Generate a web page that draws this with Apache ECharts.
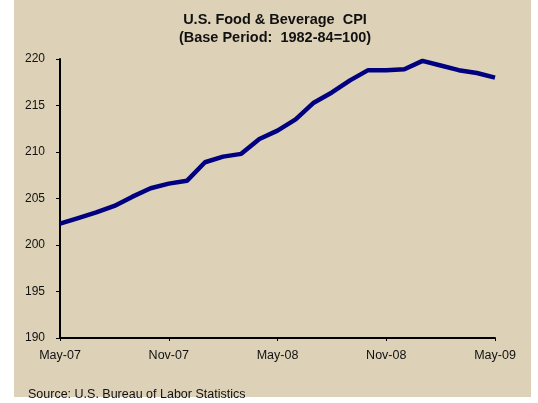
<!DOCTYPE html>
<html>
<head>
<meta charset="utf-8">
<script src="https://cdn.jsdelivr.net/npm/echarts@6/dist/echarts.min.js"></script>
<style>
  html, body { margin: 0; padding: 0; background: #fff; }
  #chart { width: 538px; height: 403px; }
</style>
</head>
<body>
<div id="chart"></div>
<script>
// monthly CPI, May-07 .. May-09
let months = ['May-07','Jun-07','Jul-07','Aug-07','Sep-07','Oct-07','Nov-07','Dec-07',
    'Jan-08','Feb-08','Mar-08','Apr-08','May-08','Jun-08','Jul-08','Aug-08','Sep-08','Oct-08',
    'Nov-08','Dec-08','Jan-09','Feb-09','Mar-09','Apr-09','May-09'];
let cpi = [202.3, 202.9, 203.5, 204.2, 205.2, 206.1, 206.6, 206.9,
    208.9, 209.5, 209.8, 211.4, 212.3, 213.5, 215.3, 216.4, 217.7, 218.8,
    218.8, 218.9, 219.8, 219.3, 218.8, 218.5, 218.0];
let yTicks = [190, 195, 200, 205, 210, 215, 220];

let font = '"Liberation Sans", Arial, sans-serif';
let myChart = echarts.init(document.getElementById('chart'));
let option = {
    backgroundColor: '#fff',
    animation: false,
    title: {
        text: 'U.S. Food & Beverage  CPI\n(Base Period:  1982-84=100)',
        left: 270,
        top: 6,
        textAlign: 'center',
        textStyle: {
            fontFamily: font,
            fontSize: 14.5,
            fontWeight: 'bold',
            color: '#111',
            lineHeight: 18
        }
    },
    graphic: [{
        type: 'rect',
        z: -10,
        shape: { x: 14, y: 0, width: 517, height: 397 },
        style: { fill: '#DDD2B8' }
    }, {
        type: 'text',
        left: 28,
        top: 388,
        style: {
            text: 'Source: U.S. Bureau of Labor Statistics',
            font: '12.5px ' + font,
            fill: '#111'
        }
    }],
    grid: { left: 60, right: 43, top: 59, bottom: 65 },
    xAxis: {
        type: 'category',
        data: months,
        boundaryGap: false,
        axisLine: { lineStyle: { color: '#000', width: 2 } },
        axisTick: { show: true, interval: 5, length: 3, lineStyle: { color: '#000' } },
        axisLabel: {
            interval: 5,
            color: '#111',
            fontFamily: font,
            fontSize: 12.5,
            margin: 11
        },
        splitLine: { show: false }
    },
    yAxis: {
        type: 'value',
        min: yTicks[0],
        max: yTicks[yTicks.length - 1],
        interval: 5,
        axisLine: { show: true, lineStyle: { color: '#000', width: 2 } },
        axisTick: { show: true, length: 4, lineStyle: { color: '#000' } },
        axisLabel: {
            color: '#111',
            fontFamily: font,
            fontSize: 12,
            margin: 15
        },
        splitLine: { show: false }
    },
    series: [{
        type: 'line',
        data: cpi,
        symbol: 'none',
        lineStyle: { color: '#000080', width: 4.5 },
        itemStyle: { color: '#000080' }
    }]
};
myChart.setOption(option);
</script>
</body>
</html>
